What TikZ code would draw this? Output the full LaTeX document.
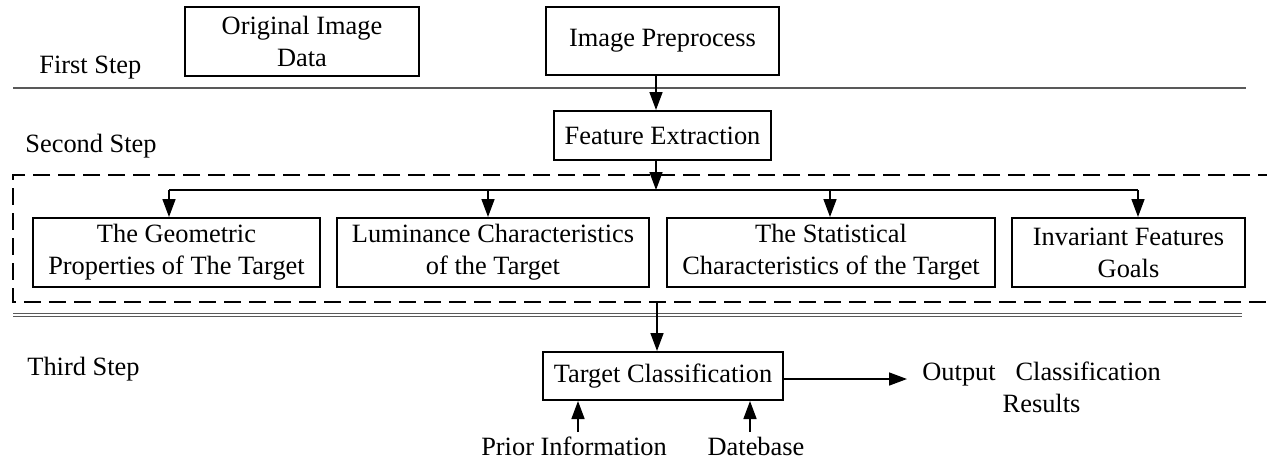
\documentclass[tikz,border=0pt]{standalone}
\usepackage{fontspec}
\setmainfont{Liberation Serif}
\usetikzlibrary{arrows.meta}

\begin{document}
\begin{tikzpicture}[x=0.5pt,y=-0.5pt,
  font=\fontsize{13.2}{16}\selectfont,
  stepbox/.style={draw,line width=1pt,align=center,inner sep=0pt},
  arr/.style={line width=0.8pt,-{Triangle[length=9pt,width=6.5pt]}},
  link/.style={line width=0.8pt},
  label/.style={inner sep=0pt,anchor=base west},
  sepline/.style={line width=0.7pt,black!65},
  group/.style={line width=1pt,dash pattern=on 8.5pt off 4pt}]
\useasboundingbox (0,0) rectangle (1267,463);

% step titles
\node[label] (s1) at (39,73) {First Step};
\node[label] (s2) at (25,152) {Second Step};
\node[label] (s3) at (27,375) {Third Step};

% first step
\node[stepbox,minimum width=117pt,minimum height=34.5pt] (orig) at (302,41.5) {Original Image\\Data};
\node[stepbox,minimum width=116.5pt,minimum height=34pt] (pre) at (662.5,41) {Image Preprocess};

% separators
\draw[sepline] (13,88) -- (1246,88);
\draw[line width=0.45pt,black!65] (13,313.5) -- (1242,313.5);
\draw[line width=0.45pt,black!65] (13,316.5) -- (1242,316.5);

% second step
\node[stepbox,minimum width=108.5pt,minimum height=24.5pt] (feat) at (662.5,135.5) {Feature Extraction};

\draw[group] (1275,175) -- (13,175) -- (13,302) -- (1275,302);

\node[stepbox,minimum width=143.5pt,minimum height=34.5pt] (geo) at (176.5,252.5) {The Geometric\\Properties of The Target};
\node[stepbox,minimum width=156pt,minimum height=34.5pt] (lum) at (493,252.5) {Luminance Characteristics\\of the Target};
\node[stepbox,minimum width=164pt,minimum height=34.5pt] (stat) at (831,252.5) {The Statistical\\Characteristics of the Target};
\node[stepbox,minimum width=116.5pt,minimum height=34.5pt] (inv) at (1128.5,252.5) {Invariant Features\\Goals};

\coordinate (a0) at (656,0);
\coordinate (hub) at (656,190);
\coordinate (b1) at (169,190);
\coordinate (b2) at (488,190);
\coordinate (b3) at (830,190);
\coordinate (b4) at (1138,190);

\draw[arr] (pre.south -| a0) -- (feat.north -| a0);
\draw[arr] (feat.south -| hub) -- (hub);
\draw[link] (b1) -- (b4);
\draw[arr] (b1) -- (b1 |- geo.north);
\draw[arr] (b2) -- (b2 |- lum.north);
\draw[arr] (b3) -- (b3 |- stat.north);
\draw[arr] (b4) -- (b4 |- inv.north);

% third step
\node[stepbox,minimum width=120pt,minimum height=24pt] (tc) at (663,376) {Target Classification};
\node[align=center,inner xsep=7.5pt,inner ysep=0pt,anchor=west] (out) at (907,387) {Output~~~Classification\\Results};
\node[inner sep=0pt,anchor=base] (prior) at (574,455) {Prior Information};
\node[inner sep=0pt,anchor=base] (db) at (756,455) {Datebase};

\coordinate (g) at (657,302);
\coordinate (pa) at (578,432);
\coordinate (da) at (750,432);

\draw[arr] (g) -- (g |- tc.north);
\draw[arr] (tc.east |- 0,379) -- (out.west |- 0,379);
\draw[arr] (pa) -- (pa |- tc.south);
\draw[arr] (da) -- (da |- tc.south);
\end{tikzpicture}
\end{document}
